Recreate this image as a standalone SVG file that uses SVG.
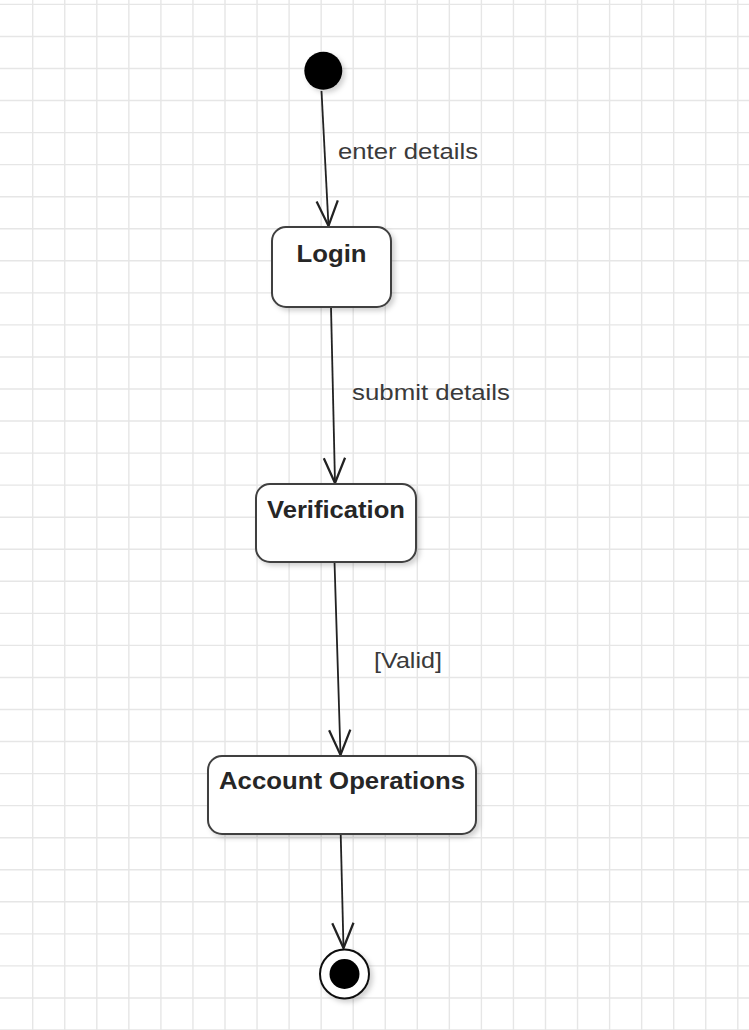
<svg xmlns="http://www.w3.org/2000/svg" width="749" height="1030" viewBox="0 0 749 1030">
<defs>
<style>
.grid{stroke:#e6e6e6;stroke-width:1.4;fill:none}
.node{fill:#ffffff;stroke:#3f3f3f;stroke-width:2}
.ntext{font-family:"Liberation Sans",Arial,sans-serif;font-weight:bold;font-size:24px;fill:#262626;text-anchor:middle}
.ltext{font-family:"Liberation Sans",Arial,sans-serif;font-size:22.5px;fill:#3a3a3a}
.edge{stroke:#222222;stroke-width:1.8;fill:none}
</style>
<marker id="arr" markerUnits="userSpaceOnUse" markerWidth="30" markerHeight="30" viewBox="-22 -11 24 22" refX="0" refY="0" orient="auto">
<path d="M -20 -8.5 L 0 0 L -20 8.5" fill="none" stroke="#222222" stroke-width="1.8"/>
</marker>
<filter id="sh" x="-20%" y="-20%" width="150%" height="150%">
<feDropShadow dx="3" dy="3" stdDeviation="2.5" flood-color="#000" flood-opacity="0.18"/>
</filter>
</defs>
<rect width="749" height="1030" fill="#ffffff"/>
<g id="grid">
<path class="grid" d="M32.7 0V1030M64.75 0V1030M96.8 0V1030M128.85 0V1030M160.9 0V1030M192.95 0V1030M225 0V1030M257.05 0V1030M289.1 0V1030M321.15 0V1030M353.2 0V1030M385.25 0V1030M417.3 0V1030M449.35 0V1030M481.4 0V1030M513.45 0V1030M545.5 0V1030M577.55 0V1030M609.6 0V1030M641.65 0V1030M673.7 0V1030M705.75 0V1030M737.8 0V1030M0 4.4H749M0 36.45H749M0 68.5H749M0 100.55H749M0 132.6H749M0 164.65H749M0 196.7H749M0 228.75H749M0 260.8H749M0 292.85H749M0 324.9H749M0 356.95H749M0 389H749M0 421.05H749M0 453.1H749M0 485.15H749M0 517.2H749M0 549.25H749M0 581.3H749M0 613.35H749M0 645.4H749M0 677.45H749M0 709.5H749M0 741.55H749M0 773.6H749M0 805.65H749M0 837.7H749M0 869.75H749M0 901.8H749M0 933.85H749M0 965.9H749M0 997.95H749M0 1030H749"/>
</g>
<g id="connectors">
<line class="edge" x1="321.5" y1="91" x2="328.5" y2="226" marker-end="url(#arr)"/>
<line class="edge" x1="331" y1="307" x2="335" y2="483" marker-end="url(#arr)"/>
<line class="edge" x1="334.5" y1="562" x2="340.5" y2="755" marker-end="url(#arr)"/>
<line class="edge" x1="340.7" y1="834" x2="343.5" y2="948" marker-end="url(#arr)"/>
<text class="ltext" x="338" y="159" textLength="140" lengthAdjust="spacingAndGlyphs">enter details</text>
<text class="ltext" x="352" y="400" textLength="158" lengthAdjust="spacingAndGlyphs">submit details</text>
<text class="ltext" x="374" y="668" textLength="68" lengthAdjust="spacingAndGlyphs">[Valid]</text>
</g>
<g id="start">
<circle cx="323.3" cy="70.7" r="19" fill="#000000" filter="url(#sh)"/>
</g>
<g id="login">
<rect class="node" x="272" y="227" width="119" height="80" rx="14" filter="url(#sh)"/>
<text class="ntext" x="331.5" y="262" textLength="70" lengthAdjust="spacingAndGlyphs">Login</text>
</g>
<g id="verification">
<rect class="node" x="256" y="484" width="160" height="78" rx="14" filter="url(#sh)"/>
<text class="ntext" x="336" y="518" textLength="138" lengthAdjust="spacingAndGlyphs">Verification</text>
</g>
<g id="account-operations">
<rect class="node" x="208" y="756" width="268" height="78" rx="14" filter="url(#sh)"/>
<text class="ntext" x="342" y="789" textLength="246" lengthAdjust="spacingAndGlyphs">Account Operations</text>
</g>
<g id="end">
<circle cx="344.5" cy="974" r="24.5" fill="#ffffff" stroke="#111111" stroke-width="2" filter="url(#sh)"/>
<circle cx="344.5" cy="974" r="15" fill="#000000"/>
</g>
</svg>
